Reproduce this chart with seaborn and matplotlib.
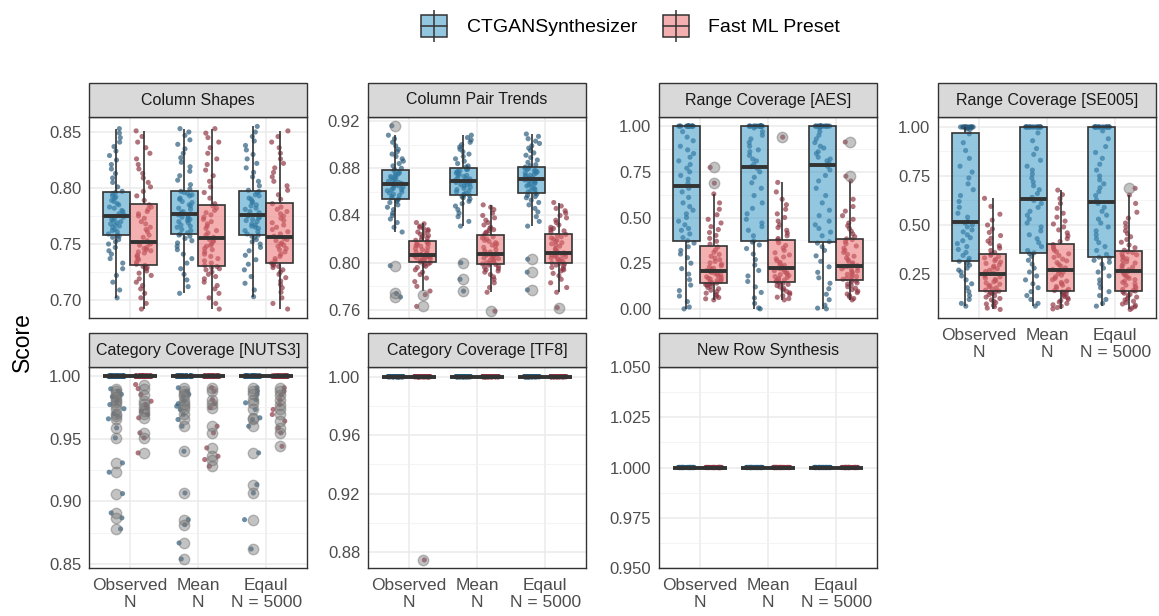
import numpy as np
import pandas as pd
import matplotlib
matplotlib.use("Agg")
import matplotlib.pyplot as plt
from matplotlib.patches import Rectangle
from matplotlib.ticker import AutoMinorLocator
import seaborn as sns

# ---------------- data ----------------
GROUPS = ["Observed\nN", "Mean\nN", "Eqaul\nN = 5000"]
MODELS = ["CTGANSynthesizer", "Fast ML Preset"]
TITLES = ["Column Shapes", "Column Pair Trends", "Range Coverage [AES]",
          "Range Coverage [SE005]", "Category Coverage [NUTS3]",
          "Category Coverage [TF8]", "New Row Synthesis"]

# Column Shapes
shapes_obs_ct = [0.702, 0.709, 0.716, 0.722, 0.728, 0.733, 0.737, 0.741, 0.744, 0.747, 0.750, 0.752, 0.754, 0.756, 0.757,
                 0.758, 0.759, 0.761, 0.762, 0.763, 0.765, 0.766, 0.767, 0.768, 0.769, 0.770, 0.771, 0.772, 0.773, 0.774,
                 0.776, 0.777, 0.779, 0.780, 0.782, 0.783, 0.785, 0.786, 0.788, 0.789, 0.791, 0.792, 0.793, 0.795, 0.796,
                 0.797, 0.801, 0.805, 0.809, 0.813, 0.817, 0.821, 0.825, 0.829, 0.833, 0.837, 0.841, 0.845, 0.849, 0.853]
shapes_obs_fm = [0.692, 0.697, 0.702, 0.706, 0.710, 0.713, 0.716, 0.719, 0.722, 0.724, 0.726, 0.728, 0.729, 0.730, 0.731,
                 0.732, 0.734, 0.736, 0.737, 0.739, 0.740, 0.742, 0.743, 0.744, 0.745, 0.746, 0.747, 0.749, 0.750, 0.751,
                 0.753, 0.756, 0.758, 0.761, 0.763, 0.765, 0.768, 0.770, 0.773, 0.775, 0.777, 0.779, 0.781, 0.783, 0.785,
                 0.789, 0.793, 0.797, 0.801, 0.805, 0.809, 0.813, 0.817, 0.821, 0.826, 0.831, 0.836, 0.841, 0.846, 0.851]
shapes_mean_ct = [0.706, 0.712, 0.718, 0.723, 0.728, 0.733, 0.737, 0.741, 0.745, 0.748, 0.751, 0.753, 0.755, 0.757, 0.758,
                  0.759, 0.760, 0.762, 0.763, 0.765, 0.766, 0.767, 0.769, 0.770, 0.771, 0.772, 0.773, 0.774, 0.775, 0.776,
                  0.778, 0.779, 0.781, 0.782, 0.784, 0.785, 0.787, 0.788, 0.790, 0.791, 0.793, 0.794, 0.795, 0.796, 0.797,
                  0.799, 0.803, 0.807, 0.811, 0.815, 0.819, 0.823, 0.827, 0.831, 0.835, 0.839, 0.843, 0.847, 0.850, 0.853]
shapes_mean_fm = [0.692, 0.697, 0.702, 0.706, 0.710, 0.713, 0.716, 0.719, 0.721, 0.723, 0.725, 0.727, 0.728, 0.729, 0.730,
                  0.731, 0.733, 0.735, 0.737, 0.739, 0.741, 0.743, 0.745, 0.746, 0.748, 0.749, 0.750, 0.752, 0.753, 0.754,
                  0.756, 0.758, 0.760, 0.762, 0.764, 0.766, 0.768, 0.770, 0.772, 0.774, 0.776, 0.778, 0.780, 0.782, 0.784,
                  0.786, 0.791, 0.796, 0.801, 0.806, 0.811, 0.816, 0.821, 0.826, 0.831, 0.836, 0.841, 0.845, 0.849, 0.853]
shapes_eq_ct = [0.703, 0.709, 0.715, 0.721, 0.727, 0.732, 0.736, 0.740, 0.744, 0.747, 0.750, 0.752, 0.754, 0.756, 0.757,
                0.758, 0.759, 0.761, 0.762, 0.764, 0.765, 0.766, 0.767, 0.768, 0.770, 0.771, 0.772, 0.773, 0.774, 0.775,
                0.776, 0.778, 0.779, 0.781, 0.782, 0.784, 0.785, 0.787, 0.788, 0.790, 0.791, 0.793, 0.794, 0.796, 0.797,
                0.798, 0.802, 0.806, 0.810, 0.814, 0.818, 0.822, 0.826, 0.830, 0.834, 0.838, 0.842, 0.846, 0.850, 0.855]
shapes_eq_fm = [0.692, 0.697, 0.702, 0.707, 0.711, 0.714, 0.717, 0.720, 0.723, 0.725, 0.727, 0.729, 0.730, 0.731, 0.732,
                0.733, 0.735, 0.737, 0.739, 0.741, 0.743, 0.745, 0.746, 0.748, 0.749, 0.750, 0.751, 0.753, 0.754, 0.755,
                0.757, 0.759, 0.761, 0.763, 0.765, 0.767, 0.769, 0.771, 0.773, 0.775, 0.777, 0.779, 0.781, 0.783, 0.786,
                0.790, 0.794, 0.798, 0.802, 0.806, 0.810, 0.814, 0.818, 0.822, 0.826, 0.831, 0.836, 0.841, 0.846, 0.851]

# Column Pair Trends
pair_obs_ct = [0.771, 0.774, 0.7975, 0.826, 0.830, 0.834, 0.837, 0.840, 0.842, 0.845, 0.847, 0.849, 0.851, 0.852, 0.853,
               0.854, 0.855, 0.856, 0.857, 0.858, 0.859, 0.860, 0.861, 0.862, 0.862, 0.863, 0.864, 0.865, 0.865, 0.866,
               0.867, 0.868, 0.868, 0.869, 0.870, 0.871, 0.872, 0.872, 0.873, 0.874, 0.875, 0.875, 0.876, 0.877, 0.878,
               0.879, 0.880, 0.882, 0.884, 0.886, 0.888, 0.890, 0.892, 0.894, 0.896, 0.899, 0.902, 0.905, 0.908, 0.916]
pair_obs_fm = [0.763, 0.773, 0.776, 0.780, 0.784, 0.787, 0.790, 0.792, 0.794, 0.796, 0.797, 0.798, 0.799, 0.800, 0.8005,
               0.801, 0.8015, 0.802, 0.8025, 0.803, 0.8035, 0.804, 0.8045, 0.805, 0.8052, 0.8055, 0.8058, 0.806, 0.8062, 0.8064,
               0.8068, 0.807, 0.808, 0.809, 0.810, 0.811, 0.812, 0.813, 0.814, 0.8145, 0.815, 0.816, 0.8165, 0.817, 0.818,
               0.819, 0.820, 0.821, 0.822, 0.823, 0.824, 0.825, 0.826, 0.827, 0.828, 0.829, 0.830, 0.831, 0.833, 0.834]
pair_mean_ct = [0.776, 0.786, 0.800, 0.831, 0.835, 0.839, 0.842, 0.845, 0.848, 0.850, 0.852, 0.854, 0.855, 0.856, 0.857,
                0.8575, 0.858, 0.859, 0.860, 0.861, 0.862, 0.863, 0.864, 0.865, 0.866, 0.866, 0.867, 0.868, 0.868, 0.869,
                0.870, 0.871, 0.871, 0.872, 0.873, 0.874, 0.874, 0.875, 0.876, 0.877, 0.877, 0.878, 0.879, 0.879, 0.880,
                0.881, 0.882, 0.884, 0.886, 0.888, 0.890, 0.892, 0.894, 0.896, 0.898, 0.900, 0.902, 0.904, 0.906, 0.908]
pair_mean_fm = [0.759, 0.775, 0.779, 0.783, 0.786, 0.788, 0.790, 0.792, 0.793, 0.794, 0.795, 0.796, 0.797, 0.798, 0.7985,
                0.799, 0.7995, 0.800, 0.801, 0.8015, 0.802, 0.803, 0.8035, 0.804, 0.805, 0.8055, 0.806, 0.8065, 0.807, 0.8072,
                0.8076, 0.809, 0.810, 0.811, 0.813, 0.814, 0.815, 0.816, 0.817, 0.818, 0.819, 0.820, 0.821, 0.822, 0.823,
                0.825, 0.826, 0.827, 0.828, 0.829, 0.830, 0.832, 0.834, 0.836, 0.838, 0.840, 0.842, 0.845, 0.847, 0.849]
pair_eq_ct = [0.777, 0.792, 0.803, 0.831, 0.835, 0.839, 0.843, 0.846, 0.849, 0.851, 0.853, 0.855, 0.856, 0.857, 0.858,
              0.859, 0.860, 0.861, 0.862, 0.863, 0.864, 0.865, 0.866, 0.867, 0.867, 0.868, 0.869, 0.869, 0.870, 0.870,
              0.8715, 0.872, 0.873, 0.874, 0.874, 0.875, 0.876, 0.876, 0.877, 0.878, 0.878, 0.879, 0.880, 0.880, 0.881,
              0.882, 0.883, 0.885, 0.887, 0.889, 0.891, 0.893, 0.895, 0.897, 0.899, 0.901, 0.903, 0.905, 0.907, 0.909]
pair_eq_fm = [0.762, 0.775, 0.779, 0.783, 0.786, 0.789, 0.791, 0.793, 0.794, 0.795, 0.796, 0.797, 0.798, 0.799, 0.7995,
              0.800, 0.801, 0.8015, 0.802, 0.803, 0.8035, 0.804, 0.805, 0.8055, 0.806, 0.8065, 0.807, 0.8075, 0.808, 0.8083,
              0.8087, 0.810, 0.811, 0.812, 0.814, 0.815, 0.816, 0.817, 0.818, 0.819, 0.820, 0.821, 0.822, 0.823, 0.824,
              0.826, 0.827, 0.828, 0.829, 0.830, 0.832, 0.834, 0.836, 0.838, 0.840, 0.842, 0.844, 0.846, 0.848, 0.851]

# Range Coverage [AES]
aes_obs_ct = [0.0, 0.01, 0.04, 0.07, 0.10, 0.13, 0.16, 0.19, 0.22, 0.25, 0.28, 0.30, 0.32, 0.34, 0.36,
              0.373, 0.39, 0.41, 0.43, 0.44, 0.46, 0.48, 0.50, 0.52, 0.54, 0.56, 0.58, 0.61, 0.64, 0.66,
              0.688, 0.71, 0.73, 0.75, 0.77, 0.79, 0.81, 0.83, 0.85, 0.87, 0.89, 0.92, 0.94, 0.97, 1.0,
              1.0, 1.0, 1.0, 1.0, 1.0, 1.0, 1.0, 1.0, 1.0, 1.0, 1.0, 1.0, 1.0, 1.0, 1.0]
aes_obs_fm = [0.049, 0.055, 0.062, 0.070, 0.078, 0.086, 0.094, 0.102, 0.110, 0.117, 0.123, 0.129, 0.134, 0.138, 0.141,
              0.1435, 0.147, 0.151, 0.155, 0.159, 0.163, 0.167, 0.171, 0.175, 0.180, 0.185, 0.190, 0.195, 0.200, 0.205,
              0.209, 0.215, 0.222, 0.229, 0.236, 0.244, 0.252, 0.260, 0.269, 0.278, 0.288, 0.298, 0.310, 0.322, 0.338,
              0.354, 0.370, 0.386, 0.402, 0.418, 0.434, 0.450, 0.470, 0.490, 0.515, 0.545, 0.580, 0.629, 0.688, 0.774]
aes_mean_ct = [0.0, 0.005, 0.03, 0.06, 0.09, 0.12, 0.15, 0.18, 0.21, 0.24, 0.27, 0.30, 0.33, 0.35, 0.365,
               0.372, 0.40, 0.43, 0.45, 0.47, 0.49, 0.52, 0.55, 0.58, 0.62, 0.66, 0.69, 0.72, 0.75, 0.77,
               0.778, 0.79, 0.81, 0.82, 0.84, 0.86, 0.87, 0.89, 0.91, 0.93, 0.95, 0.97, 0.99, 1.0, 1.0,
               1.0, 1.0, 1.0, 1.0, 1.0, 1.0, 1.0, 1.0, 1.0, 1.0, 1.0, 1.0, 1.0, 1.0, 1.0]
aes_mean_fm = [0.049, 0.056, 0.064, 0.072, 0.080, 0.088, 0.096, 0.104, 0.112, 0.120, 0.127, 0.134, 0.140, 0.144, 0.147,
               0.150, 0.154, 0.158, 0.162, 0.167, 0.172, 0.177, 0.182, 0.187, 0.192, 0.197, 0.203, 0.209, 0.214, 0.219,
               0.223, 0.230, 0.238, 0.246, 0.255, 0.264, 0.274, 0.284, 0.295, 0.307, 0.320, 0.333, 0.347, 0.362, 0.377,
               0.385, 0.400, 0.415, 0.430, 0.445, 0.460, 0.480, 0.500, 0.520, 0.545, 0.570, 0.600, 0.640, 0.692, 0.940]
aes_eq_ct = [0.0, 0.004, 0.02, 0.05, 0.08, 0.11, 0.14, 0.17, 0.20, 0.23, 0.26, 0.29, 0.32, 0.34, 0.36,
             0.368, 0.40, 0.42, 0.44, 0.46, 0.48, 0.51, 0.54, 0.58, 0.62, 0.66, 0.70, 0.73, 0.76, 0.78,
             0.796, 0.81, 0.82, 0.83, 0.85, 0.86, 0.88, 0.89, 0.91, 0.93, 0.95, 0.97, 0.99, 1.0, 1.0,
             1.0, 1.0, 1.0, 1.0, 1.0, 1.0, 1.0, 1.0, 1.0, 1.0, 1.0, 1.0, 1.0, 1.0, 1.0]
aes_eq_fm = [0.049, 0.057, 0.065, 0.073, 0.081, 0.089, 0.097, 0.105, 0.113, 0.121, 0.129, 0.136, 0.142, 0.148, 0.153,
             0.1573, 0.162, 0.167, 0.172, 0.177, 0.183, 0.189, 0.195, 0.201, 0.207, 0.213, 0.219, 0.225, 0.229, 0.232,
             0.236, 0.244, 0.252, 0.260, 0.269, 0.278, 0.288, 0.298, 0.309, 0.320, 0.332, 0.344, 0.356, 0.368, 0.379,
             0.383, 0.395, 0.410, 0.425, 0.440, 0.455, 0.470, 0.490, 0.510, 0.535, 0.560, 0.600, 0.700, 0.726, 0.913]

# Range Coverage [SE005]
se_obs_ct = [0.086, 0.10, 0.12, 0.14, 0.16, 0.18, 0.20, 0.22, 0.24, 0.26, 0.27, 0.28, 0.295, 0.305, 0.315,
             0.319, 0.33, 0.345, 0.36, 0.375, 0.39, 0.405, 0.42, 0.435, 0.45, 0.465, 0.475, 0.49, 0.50, 0.51,
             0.518, 0.54, 0.56, 0.59, 0.62, 0.65, 0.68, 0.71, 0.74, 0.77, 0.80, 0.84, 0.88, 0.92, 0.965,
             0.988, 0.99, 0.995, 1.0, 1.0, 1.0, 1.0, 1.0, 1.0, 1.0, 1.0, 1.0, 1.0, 1.0, 1.0]
se_obs_fm = [0.069, 0.076, 0.083, 0.090, 0.097, 0.104, 0.111, 0.118, 0.125, 0.132, 0.139, 0.145, 0.151, 0.156, 0.160,
             0.1627, 0.168, 0.174, 0.180, 0.186, 0.192, 0.198, 0.204, 0.210, 0.216, 0.222, 0.228, 0.235, 0.242, 0.249,
             0.255, 0.262, 0.269, 0.276, 0.283, 0.290, 0.297, 0.304, 0.311, 0.318, 0.325, 0.332, 0.339, 0.345, 0.351,
             0.359, 0.370, 0.382, 0.394, 0.406, 0.418, 0.432, 0.446, 0.462, 0.480, 0.500, 0.525, 0.555, 0.595, 0.636]
se_mean_ct = [0.086, 0.10, 0.12, 0.14, 0.16, 0.18, 0.20, 0.22, 0.24, 0.26, 0.28, 0.30, 0.32, 0.34, 0.354,
              0.358, 0.37, 0.39, 0.41, 0.43, 0.45, 0.47, 0.49, 0.51, 0.53, 0.55, 0.57, 0.59, 0.61, 0.625,
              0.641, 0.66, 0.68, 0.70, 0.72, 0.74, 0.76, 0.78, 0.80, 0.83, 0.86, 0.89, 0.93, 0.97, 1.0,
              1.0, 1.0, 1.0, 1.0, 1.0, 1.0, 1.0, 1.0, 1.0, 1.0, 1.0, 1.0, 1.0, 1.0, 1.0]
se_mean_fm = [0.072, 0.079, 0.086, 0.093, 0.100, 0.107, 0.114, 0.121, 0.128, 0.135, 0.142, 0.148, 0.154, 0.159, 0.163,
              0.1657, 0.172, 0.179, 0.186, 0.193, 0.200, 0.207, 0.214, 0.221, 0.228, 0.236, 0.244, 0.252, 0.259, 0.266,
              0.272, 0.281, 0.290, 0.299, 0.308, 0.317, 0.326, 0.335, 0.344, 0.353, 0.362, 0.371, 0.380, 0.390, 0.400,
              0.416, 0.430, 0.445, 0.460, 0.475, 0.490, 0.505, 0.520, 0.540, 0.560, 0.585, 0.610, 0.635, 0.655, 0.678]
se_eq_ct = [0.086, 0.10, 0.12, 0.14, 0.16, 0.18, 0.20, 0.22, 0.24, 0.26, 0.28, 0.30, 0.31, 0.32, 0.332,
            0.336, 0.35, 0.37, 0.39, 0.41, 0.43, 0.45, 0.47, 0.49, 0.51, 0.53, 0.55, 0.57, 0.59, 0.61,
            0.628, 0.65, 0.67, 0.69, 0.71, 0.73, 0.75, 0.78, 0.81, 0.84, 0.87, 0.90, 0.94, 0.98, 1.0,
            1.0, 1.0, 1.0, 1.0, 1.0, 1.0, 1.0, 1.0, 1.0, 1.0, 1.0, 1.0, 1.0, 1.0, 1.0]
se_eq_fm = [0.069, 0.076, 0.083, 0.090, 0.097, 0.104, 0.111, 0.118, 0.125, 0.132, 0.139, 0.146, 0.152, 0.158, 0.163,
            0.1657, 0.172, 0.179, 0.186, 0.193, 0.200, 0.207, 0.214, 0.221, 0.228, 0.235, 0.242, 0.249, 0.256, 0.263,
            0.271, 0.278, 0.285, 0.292, 0.299, 0.306, 0.313, 0.320, 0.327, 0.334, 0.341, 0.348, 0.354, 0.359, 0.363,
            0.371, 0.384, 0.398, 0.412, 0.426, 0.440, 0.455, 0.470, 0.490, 0.510, 0.535, 0.565, 0.610, 0.653, 0.687]

# Category / row coverage: most runs score exactly 1.0
N_AT_ONE = 60
nuts3_obs_ct = [0.9899, 0.988, 0.9855, 0.9835, 0.9813, 0.979, 0.9773, 0.974, 0.970, 0.968, 0.9659,
                0.9587, 0.9507, 0.9307, 0.9233, 0.9062, 0.8908, 0.8868, 0.878] + [1.0] * N_AT_ONE
nuts3_obs_fm = [0.9933, 0.990, 0.9853, 0.980, 0.9774, 0.9747, 0.972, 0.9694, 0.9667,
                0.9547, 0.9507, 0.9387] + [1.0] * N_AT_ONE
nuts3_mean_ct = [0.9907, 0.988, 0.9855, 0.984, 0.980, 0.978, 0.976, 0.9734, 0.9694, 0.9654,
                 0.960, 0.940, 0.9067, 0.8854, 0.8814, 0.8668, 0.854] + [1.0] * N_AT_ONE
nuts3_mean_fm = [0.9907, 0.988, 0.9813, 0.978, 0.9747, 0.960, 0.9547, 0.9427, 0.936,
                 0.9334, 0.928] + [1.0] * N_AT_ONE
nuts3_eq_ct = [0.9907, 0.988, 0.9855, 0.9813, 0.9787, 0.9734, 0.9667, 0.9654, 0.960,
               0.9387, 0.9134, 0.9067, 0.8854, 0.862] + [1.0] * N_AT_ONE
nuts3_eq_fm = [0.9907, 0.988, 0.9853, 0.9813, 0.9773, 0.9734, 0.9694, 0.9641, 0.9587,
               0.9547, 0.944] + [1.0] * N_AT_ONE

tf8_obs_ct = [1.0] * N_AT_ONE
tf8_obs_fm = [0.8745] + [1.0] * N_AT_ONE
tf8_mean_ct = [1.0] * N_AT_ONE
tf8_mean_fm = [1.0] * N_AT_ONE
tf8_eq_ct = [1.0] * N_AT_ONE
tf8_eq_fm = [1.0] * N_AT_ONE

newrow_obs_ct = [1.0] * N_AT_ONE
newrow_obs_fm = [1.0] * N_AT_ONE
newrow_mean_ct = [1.0] * N_AT_ONE
newrow_mean_fm = [1.0] * N_AT_ONE
newrow_eq_ct = [1.0] * N_AT_ONE
newrow_eq_fm = [1.0] * N_AT_ONE

# y-axis tick labels per panel
YTICKS = [[0.70, 0.75, 0.80, 0.85], [0.76, 0.80, 0.84, 0.88, 0.92], [0.0, 0.25, 0.50, 0.75, 1.00],
          [0.25, 0.50, 0.75, 1.00], [0.85, 0.90, 0.95, 1.00], [0.88, 0.92, 0.96, 1.00],
          [0.950, 0.975, 1.000, 1.025, 1.050]]
YFMT = ["{:.2f}"] * 6 + ["{:.3f}"]

# ---------------- style ----------------
sns.set_style("white")
plt.rcParams["font.family"] = ["Liberation Sans", "DejaVu Sans"]

BOX_BASE = {"CTGANSynthesizer": "#3B97C5", "Fast ML Preset": "#EB6F71"}
BOX_ALPHA = 0.55
PT_COL = {"CTGANSynthesizer": "#26587A", "Fast ML Preset": "#8C3240"}
EDGE = "#333333"
TICK_COL = "#4D4D4D"

W, H = 1159, 616
fig = plt.figure(figsize=(W / 100, H / 100), dpi=100)

COL_X = [89, 368, 659, 938]
ROW_TOP = [117, 367]
AW, AH = 218, 201
STRIP_H = 34

panel_pos = [(0, 0), (0, 1), (0, 2), (0, 3), (1, 0), (1, 1), (1, 2)]
ylims = [(0.684, 0.8634), (0.7532, 0.9234), (-0.05, 1.05), (0.0255, 1.051),
         (0.8468, 1.0073), (0.869, 1.0066), (0.95, 1.05)]
show_x = [False, False, False, True, True, True, True]

panel_data = [
    [[shapes_obs_ct, shapes_obs_fm], [shapes_mean_ct, shapes_mean_fm], [shapes_eq_ct, shapes_eq_fm]],
    [[pair_obs_ct, pair_obs_fm], [pair_mean_ct, pair_mean_fm], [pair_eq_ct, pair_eq_fm]],
    [[aes_obs_ct, aes_obs_fm], [aes_mean_ct, aes_mean_fm], [aes_eq_ct, aes_eq_fm]],
    [[se_obs_ct, se_obs_fm], [se_mean_ct, se_mean_fm], [se_eq_ct, se_eq_fm]],
    [[nuts3_obs_ct, nuts3_obs_fm], [nuts3_mean_ct, nuts3_mean_fm], [nuts3_eq_ct, nuts3_eq_fm]],
    [[tf8_obs_ct, tf8_obs_fm], [tf8_mean_ct, tf8_mean_fm], [tf8_eq_ct, tf8_eq_fm]],
    [[newrow_obs_ct, newrow_obs_fm], [newrow_mean_ct, newrow_mean_fm], [newrow_eq_ct, newrow_eq_fm]],
]

np.random.seed(3)  # jitter positions only

for i, (r, c) in enumerate(panel_pos):
    ax = fig.add_axes([COL_X[c] / W, 1 - (ROW_TOP[r] + AH) / H, AW / W, AH / H])
    rows = []
    for gi, g in enumerate(GROUPS):
        for mi, m in enumerate(MODELS):
            for v in panel_data[i][gi][mi]:
                rows.append((g, m, v))
    df = pd.DataFrame(rows, columns=["group", "model", "score"])

    # jittered points first, boxes (semi-transparent) on top, as in ggplot layering
    sns.stripplot(data=df, x="group", y="score", hue="model", order=GROUPS, hue_order=MODELS,
                  palette=PT_COL, dodge=True, jitter=0.24, size=3.7, alpha=0.68, linewidth=0,
                  legend=False, ax=ax, zorder=0.9)
    n_before = len(ax.patches)
    sns.boxplot(data=df, x="group", y="score", hue="model", order=GROUPS, hue_order=MODELS,
                palette=BOX_BASE, saturation=1, width=0.8, gap=0, linewidth=1.2, linecolor=EDGE,
                showcaps=False, fliersize=7.5,
                flierprops=dict(marker="o", markerfacecolor="#7a7a7a", markeredgecolor="#707070",
                                alpha=0.45),
                medianprops=dict(linewidth=2.8, color=EDGE),
                legend=False, ax=ax)
    for p in ax.patches[n_before:]:
        fc = p.get_facecolor()
        p.set_facecolor((fc[0], fc[1], fc[2], BOX_ALPHA))

    ax.set_xlim(-0.6, 2.6)
    ax.set_ylim(*ylims[i])
    ax.set_yticks(YTICKS[i])
    ax.set_yticklabels([YFMT[i].format(t) for t in YTICKS[i]])
    ax.yaxis.set_minor_locator(AutoMinorLocator(2))
    ax.set_xlabel("")
    ax.set_ylabel("")
    ax.set_axisbelow(True)
    ax.grid(which="major", color="#EBEBEB", lw=1.1)
    ax.grid(which="minor", axis="y", color="#F2F2F2", lw=0.6)
    for sp in ax.spines.values():
        sp.set_color(EDGE)
        sp.set_linewidth(1.0)
    ax.tick_params(axis="y", which="major", length=3.5, width=1.0, color=EDGE,
                   labelsize=12, labelcolor=TICK_COL, pad=2)
    ax.tick_params(which="minor", length=0)
    ax.set_xticks([0, 1, 2])
    if show_x[i]:
        ax.set_xticklabels(GROUPS, linespacing=1.1)
        ax.tick_params(axis="x", length=3.5, width=1.0, color=EDGE,
                       labelsize=12.5, labelcolor=TICK_COL, pad=4)
    else:
        ax.tick_params(axis="x", length=0, labelbottom=False)

    # facet strip
    ax.add_patch(Rectangle((0, 1), 1, STRIP_H / AH, transform=ax.transAxes,
                           facecolor="#D9D9D9", edgecolor=EDGE, lw=1.0, clip_on=False, zorder=5))
    ax.text(0.5, 1 + STRIP_H / AH / 2, TITLES[i], transform=ax.transAxes,
            ha="center", va="center", fontsize=11.5, color="#1A1A1A", zorder=6)

# overlay for legend and y title (pixel coordinates)
oax = fig.add_axes([0, 0, 1, 1])
oax.set_xlim(0, W)
oax.set_ylim(H, 0)
oax.axis("off")

def legend_key(x0, color):
    oax.plot([x0 + 13, x0 + 13], [10, 42], color=EDGE, lw=1.1, solid_capstyle="butt")
    oax.add_patch(Rectangle((x0, 15), 26, 22, facecolor=color, alpha=BOX_ALPHA, lw=0))
    oax.add_patch(Rectangle((x0, 15), 26, 22, facecolor="none", edgecolor=EDGE, lw=1.1))
    oax.plot([x0, x0 + 26], [26, 26], color=EDGE, lw=1.1)

legend_key(421, BOX_BASE["CTGANSynthesizer"])
oax.text(467, 27, MODELS[0], ha="left", va="center", fontsize=14, color="black")
legend_key(663, BOX_BASE["Fast ML Preset"])
oax.text(708, 27, MODELS[1], ha="left", va="center", fontsize=14, color="black")

oax.text(22, 342, "Score", rotation=90, ha="center", va="center", fontsize=16.5, color="black")

fig.savefig("out.png", dpi=100)
